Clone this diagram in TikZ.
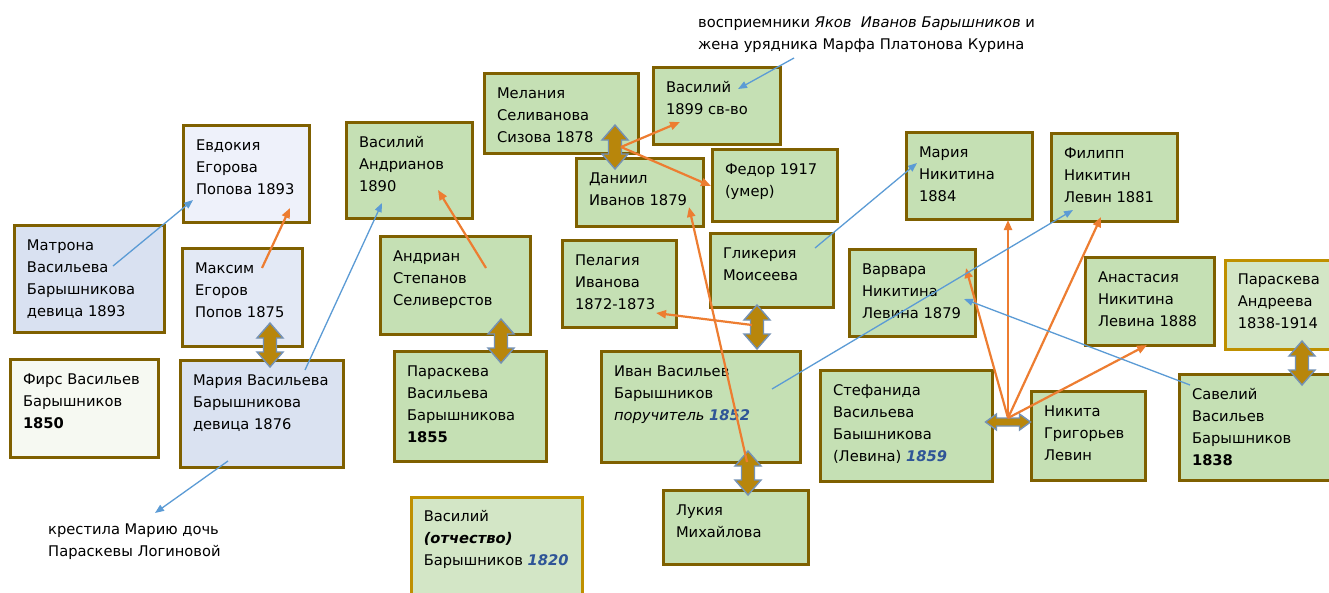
\documentclass[tikz,border=0pt]{standalone}
\usepackage{fontspec}
\setmainfont{DejaVu Sans}
\usetikzlibrary{arrows.meta}
\definecolor{bdark}{HTML}{7F6000}
\definecolor{blight}{HTML}{BF9000}
\definecolor{cg}{HTML}{C5E0B4}
\definecolor{cgl}{HTML}{D3E6C6}
\definecolor{cb1}{HTML}{EEF1FA}
\definecolor{cb2}{HTML}{D9E1F1}
\definecolor{cb3}{HTML}{E3E9F5}
\definecolor{cb4}{HTML}{DAE2F1}
\definecolor{cw}{HTML}{F6F9F2}
\definecolor{corange}{HTML}{ED7D31}
\definecolor{cblue}{HTML}{5B9BD5}
\definecolor{cyear}{HTML}{2F5597}
\definecolor{agold}{HTML}{B8860B}
\definecolor{aline}{HTML}{7391B5}
\newcommand\bxt[3]{\parbox[c][#2pt][t]{#1pt}{\raggedright\leftskip=12.5pt\rule{0pt}{24.5pt}#3}}
\newcommand\yr[1]{\textcolor{cyear}{\textbf{\textit{#1}}}}
\tikzset{
  box/.style={draw=bdark, line width=3pt, inner sep=0pt, anchor=north west, font=\fontsize{14.7}{22}\selectfont},
  boxl/.style={box, draw=blight, line width=2.5pt},
  dar/.style={draw=aline, fill=agold, line width=1.4pt, line join=miter},
  oc/.style={draw=corange, line width=2.2pt, -{Triangle[length=10pt,width=8pt]}},
  bc/.style={draw=cblue, line width=1.3pt, -{Triangle[length=9pt,width=7pt]}},
  captext/.style={inner sep=0pt, anchor=north west, font=\fontsize{14.7}{22}\selectfont}
}
% vertical double block arrow centred at (#1,#2)
\newcommand\darv[2]{\path[dar] (#1,#2) ++(0,-22) -- ++(13,15) -- ++(-6.5,0) -- ++(0,14) -- ++(6.5,0) -- ++(-13,15) -- ++(-13,-15) -- ++(6.5,0) -- ++(0,-14) -- ++(-6.5,0) -- cycle;}
% horizontal double block arrow centred at (#1,#2)
\newcommand\darh[2]{\path[dar] (#1,#2) ++(-22.5,0) -- ++(11,-8) -- ++(0,4) -- ++(23,0) -- ++(0,-4) -- ++(11,8) -- ++(-11,8) -- ++(0,-4) -- ++(-23,0) -- ++(0,4) -- cycle;}
\begin{document}
\begin{tikzpicture}[x=1pt, y=-1pt]
\useasboundingbox (0,0) rectangle (1329,592);
\fill[white] (0,0) rectangle (1329,592);
\clip (0,0) rectangle (1329,592);
% boxes
\node[box, fill=cb1] (ev) at (182,124) {\bxt{126}{97}{Евдокия\\Егорова\\Попова 1893}};
\node[box, fill=cb2] (mat) at (13,224) {\bxt{150}{107}{Матрона\\Васильева\\Барышникова\\девица 1893}};
\node[box, fill=cb3] (max) at (181,247) {\bxt{120}{98}{Максим\\Егоров\\Попов 1875}};
\node[box, fill=cw] (firs) at (9,358) {\bxt{148}{98}{Фирс Васильев\\Барышников\\\textbf{1850}}};
\node[box, fill=cb4] (mar) at (179,359) {\bxt{163}{107}{Мария Васильева\\Барышникова\\девица 1876}};
\node[box, fill=cg] (vand) at (345,121) {\bxt{126}{96}{Василий\\Андрианов\\1890}};
\node[box, fill=cg] (andr) at (379,235) {\bxt{150}{98}{Андриан\\Степанов\\Селиверстов}};
\node[box, fill=cg] (parb) at (393,350) {\bxt{152}{110}{Параскева\\Васильева\\Барышникова\\\textbf{1855}}};
\node[boxl, fill=cgl] (vot) at (410,496) {\bxt{171}{110}{Василий\\\textbf{\textit{(отчество)}}\\Барышников \yr{1820}}};
\node[box, fill=cg] (mel) at (483,72) {\bxt{154}{80}{Мелания\\Селиванова\\Сизова 1878}};
\node[box, fill=cg] (v99) at (652,66) {\bxt{127}{77}{Василий\\1899 св-во}};
\node[box, fill=cg] (dan) at (575,157) {\bxt{127}{68}{Даниил\\Иванов 1879}};
\node[box, fill=cg] (fed) at (711,148) {\bxt{125}{72}{Федор 1917\\(умер)}};
\node[box, fill=cg] (pel) at (561,239) {\bxt{114}{87}{Пелагия\\Иванова\\1872-1873}};
\node[box, fill=cg] (gli) at (709,232) {\bxt{123}{74}{Гликерия\\Моисеева}};
\node[box, fill=cg] (ivan) at (600,350) {\bxt{199}{111}{Иван Васильев\\Барышников\\\textit{поручитель} \yr{1852}}};
\node[box, fill=cg] (luk) at (662,489) {\bxt{145}{74}{Лукия\\Михайлова}};
\node[box, fill=cg] (mnik) at (905,131) {\bxt{126}{87}{Мария\\Никитина\\1884}};
\node[box, fill=cg] (fil) at (1050,132) {\bxt{126}{88}{Филипп\\Никитин\\Левин 1881}};
\node[box, fill=cg] (var) at (848,248) {\bxt{126}{87}{Варвара\\Никитина\\Левина 1879}};
\node[box, fill=cg] (ana) at (1084,256) {\bxt{129}{88}{Анастасия\\Никитина\\Левина 1888}};
\node[boxl, fill=cgl] (para) at (1224,259) {\bxt{120}{89}{Параскева\\Андреева\\1838-1914}};
\node[box, fill=cg] (stef) at (819,369) {\bxt{172}{111}{Стефанида\\Васильева\\Баышникова\\(Левина) \yr{1859}}};
\node[box, fill=cg] (nik) at (1030,390) {\bxt{114}{89}{Никита\\Григорьев\\Левин}};
\node[box, fill=cg] (sav) at (1178,373) {\bxt{170}{106}{Савелий\\Васильев\\Барышников\\\textbf{1838}}};
% captions
\node[captext] (captop) at (698,0) {\parbox[t]{420pt}{\rule{0pt}{27.5pt}восприемники \textit{Яков\ \ Иванов Барышников} и\\жена урядника Марфа Платонова Курина}};
\node[captext] (capbot) at (48,510) {\parbox[t]{300pt}{\rule{0pt}{24pt}крестила Марию дочь\\Параскевы Логиновой}};
% connector end points
\coordinate (maxo) at (262,268); \coordinate (evo) at (290,208);
\coordinate (andro) at (486,268); \coordinate (vando) at (438,190);
\coordinate (v99o) at (680,122); \coordinate (fedo) at (711,186);
\coordinate (ivano) at (747,462); \coordinate (dano) at (689,207);
\coordinate (glio) at (752,325); \coordinate (pelo) at (656,313);
\coordinate (stefo) at (1008,418);
\coordinate (varo) at (966,268); \coordinate (mniko) at (1008,220);
\coordinate (filo) at (1101,217); \coordinate (anao) at (1147,345);
\coordinate (matb) at (113,266); \coordinate (evb) at (193,200);
\coordinate (marb) at (305,370); \coordinate (vandb) at (382,203);
\coordinate (marb2) at (228,461); \coordinate (capbotb) at (155,513);
\coordinate (captopb) at (794,58); \coordinate (v99b) at (738,89);
\coordinate (glib) at (815,248); \coordinate (mnikb) at (917,163);
\coordinate (ivanb) at (772,389); \coordinate (filb) at (1073,210);
\coordinate (savb) at (1190,385); \coordinate (varb) at (964,299);
\coordinate (d3r) at (621,147);
% double block arrows (marriages)
\darv{270}{345}
\darv{501}{341}
\darv{615}{147}
\darv{757}{327}
\darv{748}{473}
\darv{1302}{363}
\darh{1008}{422}
% orange connectors
\draw[oc] (maxo) -- (evo);
\draw[oc] (andro) -- (vando);
\draw[oc] (d3r) -- (v99o);
\draw[oc] (d3r) -- (fedo);
\draw[oc] (ivano) -- (dano);
\draw[oc] (glio) -- (pelo);
\draw[oc] (stefo) -- (varo);
\draw[oc] (stefo) -- (mniko);
\draw[oc] (stefo) -- (filo);
\draw[oc] (stefo) -- (anao);
% blue connectors
\draw[bc] (matb) -- (evb);
\draw[bc] (marb) -- (vandb);
\draw[bc] (marb2) -- (capbotb);
\draw[bc] (captopb) -- (v99b);
\draw[bc] (glib) -- (mnikb);
\draw[bc] (ivanb) -- (filb);
\draw[bc] (savb) -- (varb);
\end{tikzpicture}
\end{document}
